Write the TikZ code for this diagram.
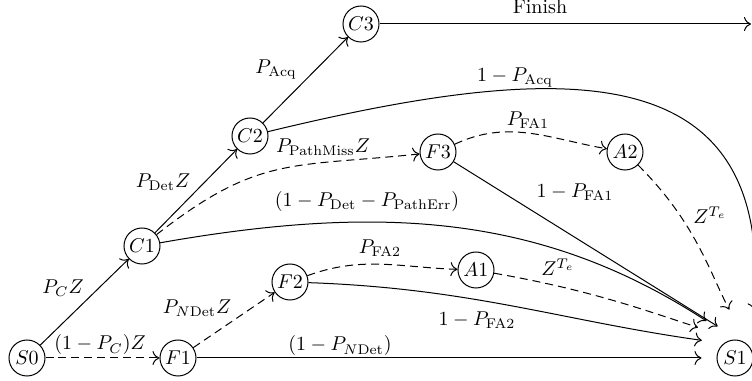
\documentclass[tikz,border=0pt]{standalone}
\usepackage{amsmath,amssymb}
\usetikzlibrary{arrows.meta,positioning}
\tikzset{
  mstate/.style={draw,circle,minimum size=18pt,inner sep=0pt,line width=.5pt},
  lbl/.style={inner sep=1pt},
  tr/.style={-{To[length=3.5pt,width=7pt]},line width=.5pt},
  trd/.style={tr,dash pattern=on 4pt off 2.5pt},
}
\begin{document}
\begin{tikzpicture}[x=.5pt,y=.5pt]
\useasboundingbox (0,0) rectangle (752,381);
\node[mstate] (S0) at (27,23) {$S0$};
\node[mstate] (F1) at (178,23) {$F1$};
\node[mstate] (S1) at (735,23) {$S1$};
\node[mstate] (C1) at (142,135) {$C1$};
\node[mstate] (F2) at (290,99) {$F2$};
\node[mstate] (A1) at (476,111) {$A1$};
\node[mstate] (C2) at (250,245) {$C2$};
\node[mstate] (C3) at (361,357) {$C3$};
\node[mstate] (F3) at (438,229) {$F3$};
\node[mstate] (A2) at (625,229) {$A2$};
\coordinate (fin) at (751,357);

\draw[tr] (S0) -- (C1);
\draw[trd] (S0) -- (F1);
\draw[trd] (F1) -- (F2);
\draw[tr,shorten >=7.5pt] (F1) -- (S1);
\draw[tr] (C1) -- (C2);
\draw[tr] (C2) -- (C3);
\draw[tr] (C3) -- (fin);
\draw[tr,shorten >=19pt] (C2) .. controls (560,320) and (775,330) .. (S1.30);
\draw[trd] (C1) to[out=38,in=186,looseness=1.2] (F3);
\draw[tr,shorten >=17pt] (C1) to[out=10,in=147] (S1.north);
\draw[trd] (F3) to[out=25,in=170] (A2);
\draw[tr,shorten >=13pt] (F3) -- (S1.75);
\draw[trd,shorten >=20pt] (A2) to[out=-45,in=118] (S1.45);
\draw[trd] (F2) to[out=20,in=178] (A1);
\draw[trd,shorten >=19.5pt] (A1) to[out=-10,in=162] (S1.north);
\draw[tr,shorten >=11pt] (F2) to[out=-2,in=172] (S1.128);

\node[lbl] (lPC) at (63,93) {$P_C Z$};
\node[lbl] (lnPC) at (100,36) {$(1-P_C)Z$};
\node[lbl] (lPND) at (197,73) {$P_{N\mathrm{Det}}Z$};
\node[lbl] (lnPND) at (340,35) {$(1-P_{N\mathrm{Det}})$};
\node[lbl] (lPD) at (163,199) {$P_{\mathrm{Det}}Z$};
\node[lbl] (lPA) at (276,311) {$P_{\mathrm{Acq}}$};
\node[lbl] (lfin) at (540,374) {Finish};
\node[lbl] (lnPA) at (515,303) {$1-P_{\mathrm{Acq}}$};
\node[lbl] (lPPM) at (323,234) {$P_{\mathrm{PathMiss}}Z$};
\node[lbl] (lnPD) at (367,179) {$(1-P_{\mathrm{Det}}-P_{\mathrm{PathErr}})$};
\node[lbl] (lPFA1) at (528,261) {$P_{\mathrm{FA1}}$};
\node[lbl] (lnPFA1) at (575,189) {$1-P_{\mathrm{FA1}}$};
\node[lbl] (lZa) at (710,166) {$Z^{T_e}$};
\node[lbl] (lPFA2) at (380,133) {$P_{\mathrm{FA2}}$};
\node[lbl] (lZb) at (558,114) {$Z^{T_e}$};
\node[lbl] (lnPFA2) at (477,61) {$1-P_{\mathrm{FA2}}$};
\end{tikzpicture}
\end{document}
